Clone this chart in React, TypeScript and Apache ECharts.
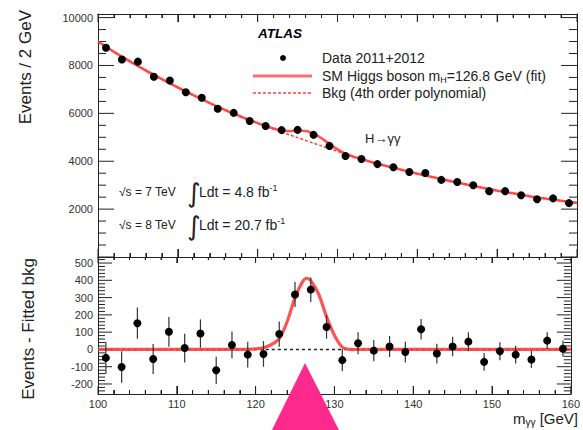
import React, { useEffect, useRef } from 'react';
import * as echarts from 'echarts';

// ---- data ----
const massBins = [101, 103, 105, 107, 109, 111, 113, 115, 117, 119, 121, 123, 125, 127, 129, 131, 133, 135, 137, 139, 141, 143, 145, 147, 149, 151, 153, 155, 157, 159];
const eventCounts = [8740, 8250, 8160, 7530, 7370, 6880, 6650, 6190, 6020, 5680, 5470, 5300, 5310, 5100, 4640, 4220, 4090, 3880, 3750, 3550, 3510, 3220, 3130, 3000, 2750, 2750, 2580, 2410, 2450, 2250];
const statErrors = [93, 91, 90, 87, 86, 83, 82, 79, 78, 75, 74, 73, 73, 71, 68, 65, 64, 62, 61, 60, 59, 57, 56, 55, 52, 52, 51, 49, 49, 47];
const residuals = [-49, -102, 152, -55, 102, 8, 92, -121, 26, -30, -26, 89, 318, 346, 130, -62, 36, -7, 17, -15, 117, -24, 17, 45, -72, -11, -30, -58, 51, 4];

const bgMass = [100, 102, 104, 106, 108, 110, 112, 114, 116, 118, 119, 120, 121, 122, 123, 124, 125, 126, 126.5, 127, 128, 129, 130, 131, 132, 133, 134, 136, 138, 140, 142, 144, 146, 148, 150, 152, 154, 156, 158, 160];
const bgFit = [9000, 8570, 8170, 7790, 7430, 7080, 6750, 6430, 6130, 5850, 5720, 5590, 5465, 5340, 5220, 5100, 4985, 4870, 4813, 4755, 4640, 4525, 4410, 4300, 4190, 4090, 3990, 3810, 3640, 3480, 3330, 3180, 3040, 2900, 2770, 2660, 2540, 2440, 2350, 2260];

const signalMass = [119, 120, 121, 122, 123, 124, 125, 126, 126.5, 127, 128, 129, 130, 131, 132];
const signalFit = [0, 3, 10, 28, 62, 160, 300, 395, 412, 398, 320, 190, 82, 13, 0];

// axis ranges and tick values
const xRange = [100, 160];
const topYRange = [0, 10150];
const resYRange = [-258, 535];
const xMajorTicks = [100, 110, 120, 130, 140, 150, 160];
const topYMajorTicks = [0, 2000, 4000, 6000, 8000, 10000];
const resYMajorTicks = [-200, -100, 0, 100, 200, 300, 400, 500];

const FONT = 'Liberation Sans, Arial, sans-serif';
const RED = '#ff4040';
const AXIS = '#222';

function sigAt(m: number): number {
  const i = signalMass.indexOf(m);
  return i >= 0 ? signalFit[i] : 0;
}

function minorTicks(range: number[], step: number, majorStep: number): number[] {
  const out: number[] = [];
  const start = Math.ceil(range[0] / step) * step;
  for (let v = start; v <= range[1]; v += step) {
    if (Math.abs(v % majorStep) > 1e-6) out.push(v);
  }
  return out;
}

function xAxis(grid: number, pos: 'top' | 'bottom', showLabel: boolean, major: number, minor: number) {
  return {
    type: 'value', gridIndex: grid, position: pos,
    min: xRange[0], max: xRange[1], interval: 10,
    axisLine: { show: true, onZero: false, lineStyle: { color: AXIS, width: 1 } },
    axisTick: { show: true, inside: true, length: major, lineStyle: { color: AXIS, width: 1 } },
    minorTick: { show: true, splitNumber: 5, length: minor, lineStyle: { color: AXIS, width: 1 } },
    splitLine: { show: false },
    axisLabel: { show: showLabel, fontSize: 11, color: '#333', margin: 4 },
  };
}

function yAxis(grid: number, pos: 'left' | 'right', range: number[], opts: any, showLabel: boolean, fmt?: (v: number) => string) {
  return {
    type: 'value', gridIndex: grid, position: pos, min: range[0], max: range[1], ...opts,
    axisLine: { show: true, onZero: false, lineStyle: { color: AXIS, width: 1 } },
    axisTick: { show: false },
    minorTick: { show: false },
    splitLine: { show: false },
    axisLabel: { show: showLabel, fontSize: 11, color: '#333', margin: 5, formatter: fmt, showMinLabel: false, showMaxLabel: false },
  };
}

function errorBarRender(params: any, api: any) {
  const x = api.value(0);
  const y = api.value(1);
  const e = api.value(2);
  const p1 = api.coord([x, y + e]);
  const p2 = api.coord([x, y - e]);
  return {
    type: 'line',
    shape: { x1: p1[0], y1: p1[1], x2: p2[0], y2: p2[1] },
    style: { stroke: '#333', lineWidth: 1.2 },
  };
}

// draws a whole fitted curve once, through the axes' own scales
function curveRender(points: number[][], style: any) {
  return (params: any, api: any) => {
    if (params.dataIndex !== 0) return null;
    const pts = points.map((p) => api.coord(p));
    return {
      type: 'polyline',
      shape: { points: pts, smooth: 0.3 },
      style: { fill: 'none', ...style },
    };
  };
}

// ROOT-style inside ticks on all four sides of a panel
function frameTicksRender(yRange: number[], yMaj: number[], yMin: number[], lens: { xb: number; xt: number; y: number }) {
  const xMin = minorTicks(xRange, 2, 10);
  return (params: any, api: any) => {
    if (params.dataIndex !== 0) return null;
    const children: any[] = [];
    const seg = (a: number[], b: number[]) => children.push({
      type: 'line',
      shape: { x1: a[0], y1: a[1], x2: b[0], y2: b[1] },
      style: { stroke: AXIS, lineWidth: 1 },
    });
    const xTick = (v: number, f: number) => {
      const pb = api.coord([v, yRange[0]]);
      seg(pb, [pb[0], pb[1] - lens.xb * f]);
      const pt = api.coord([v, yRange[1]]);
      seg(pt, [pt[0], pt[1] + lens.xt * f]);
    };
    const yTick = (v: number, f: number) => {
      const pl = api.coord([xRange[0], v]);
      seg(pl, [pl[0] + lens.y * f, pl[1]]);
      const pr = api.coord([xRange[1], v]);
      seg(pr, [pr[0] - lens.y * f, pr[1]]);
    };
    xMajorTicks.forEach((v) => xTick(v, 1));
    xMin.forEach((v) => xTick(v, 0.5));
    yMaj.forEach((v) => yTick(v, 1));
    yMin.forEach((v) => yTick(v, 0.5));
    return { type: 'group', children };
  };
}

export default function App() {
  const ref = useRef<HTMLDivElement>(null);
  const overlayRef = useRef<HTMLDivElement>(null);
  useEffect(() => {
    document.body.style.margin = '0';
    const chart = echarts.init(ref.current!, null, { renderer: 'svg' });
    const overlay = echarts.init(overlayRef.current!, null, { renderer: 'svg' });

    const topData = massBins.map((m, i) => [m, eventCounts[i], statErrors[i]]);
    const resData = massBins.map((m, i) => [m, residuals[i], statErrors[i]]);
    const bgLine = bgMass.map((m, i) => [m, bgFit[i]]);
    const sbLine = bgMass.map((m, i) => [m, bgFit[i] + sigAt(m)]);
    const sigLine = bgMass.map((m) => [m, sigAt(m)]);
    const zeroLine = [[xRange[0], 0], [xRange[1], 0]];

    const topFmt = (v: number) => (v > 0 && v % 2000 === 0 ? String(v) : '');
    const resFmt = (v: number) => (v % 100 === 0 ? String(v) : '');

    chart.setOption({
      animation: false,
      backgroundColor: '#fff',
      grid: [
        { left: 98, width: 479, top: 14, height: 243 },
        { left: 98, width: 479, top: 257, height: 137 },
      ],
      xAxis: [
        xAxis(0, 'bottom', false, 8, 4),
        xAxis(0, 'top', false, 8, 4),
        xAxis(1, 'bottom', true, 8, 4),
        xAxis(1, 'top', false, 6, 3),
      ],
      yAxis: [
        yAxis(0, 'left', topYRange, { interval: 2000 }, true, topFmt),
        yAxis(0, 'right', topYRange, { interval: 2000 }, false),
        yAxis(1, 'left', resYRange, { splitNumber: 8 }, true, resFmt),
        yAxis(1, 'right', resYRange, { splitNumber: 8 }, false),
      ],
      series: [
        {
          type: 'custom', xAxisIndex: 0, yAxisIndex: 0, data: [[xRange[0], topYRange[0]]], encode: { x: 0, y: 1 }, silent: true,
          renderItem: frameTicksRender(topYRange, topYMajorTicks, minorTicks(topYRange, 500, 2000), { xb: 8, xt: 8, y: 16 }),
        },
        {
          type: 'custom', xAxisIndex: 2, yAxisIndex: 2, data: [[xRange[0], 0]], encode: { x: 0, y: 1 }, silent: true,
          renderItem: frameTicksRender(resYRange, resYMajorTicks, minorTicks(resYRange, 20, 100), { xb: 8, xt: 6, y: 14 }),
        },
        {
          type: 'custom', xAxisIndex: 0, yAxisIndex: 0, data: bgLine, encode: { x: 0, y: 1 },
          renderItem: curveRender(bgLine, { stroke: RED, lineWidth: 1.5, lineDash: [3, 2] }),
        },
        {
          type: 'custom', xAxisIndex: 0, yAxisIndex: 0, data: sbLine, encode: { x: 0, y: 1 },
          renderItem: curveRender(sbLine, { stroke: RED, lineWidth: 2.6, opacity: 0.9 }),
        },
        {
          type: 'scatter', xAxisIndex: 0, yAxisIndex: 0, data: topData, symbolSize: 8,
          itemStyle: { color: '#000', opacity: 1 },
        },
        {
          type: 'custom', xAxisIndex: 2, yAxisIndex: 2, data: zeroLine, encode: { x: 0, y: 1 },
          renderItem: curveRender(zeroLine, { stroke: '#222', lineWidth: 1.5, lineDash: [3, 3] }),
        },
        {
          type: 'custom', xAxisIndex: 2, yAxisIndex: 2, data: sigLine, encode: { x: 0, y: 1 },
          renderItem: curveRender(sigLine, { stroke: RED, lineWidth: 3.2, opacity: 0.9 }),
        },
        {
          type: 'custom', xAxisIndex: 2, yAxisIndex: 2, data: resData, renderItem: errorBarRender,
          encode: { x: 0, y: 1 },
        },
        {
          type: 'scatter', xAxisIndex: 2, yAxisIndex: 2, data: resData, symbolSize: 8,
          itemStyle: { color: '#000', opacity: 1 },
        },
      ],
    } as any);

    const textStyle = (size: number, extra: any = {}) => ({ fontFamily: FONT, fontSize: size, fill: '#222', ...extra });
    overlay.setOption({
      animation: false,
      graphic: [
        { type: 'text', x: 25, y: 10, rotation: Math.PI / 2, style: textStyle(17, { text: 'Events / 2 GeV', align: 'right', verticalAlign: 'middle' }) },
        { type: 'text', x: 28, y: 258, rotation: Math.PI / 2, style: textStyle(17, { text: 'Events - Fitted bkg', align: 'right', verticalAlign: 'middle' }) },
        {
          type: 'text', x: 578, y: 418,
          style: {
            text: '{a|m}{b|γγ}{a| [GeV]}', align: 'right', verticalAlign: 'middle', fill: '#222',
            rich: {
              a: { fontFamily: FONT, fontSize: 15, fill: '#222' },
              b: { fontFamily: FONT, fontSize: 10, fill: '#222', padding: [8, 0, 0, 0] },
            },
          },
        },
        { type: 'text', x: 258, y: 33, style: textStyle(13.5, { text: 'ATLAS', fontWeight: 'bold', fontStyle: 'italic', fill: '#000', verticalAlign: 'middle' }) },
        { type: 'circle', shape: { cx: 283, cy: 58, r: 3 }, style: { fill: '#000' } },
        { type: 'line', shape: { x1: 253, y1: 76, x2: 312, y2: 76 }, style: { stroke: RED, lineWidth: 3, opacity: 0.75 } },
        { type: 'line', shape: { x1: 253, y1: 93, x2: 312, y2: 93 }, style: { stroke: RED, lineWidth: 1.5, lineDash: [3, 2] } },
        { type: 'text', x: 322, y: 58, style: textStyle(14, { text: 'Data 2011+2012', verticalAlign: 'middle' }) },
        {
          type: 'text', x: 322, y: 76,
          style: {
            text: '{a|SM Higgs boson m}{b|H}{a|=126.8 GeV (fit)}', verticalAlign: 'middle',
            rich: {
              a: { fontFamily: FONT, fontSize: 14, fill: '#222' },
              b: { fontFamily: FONT, fontSize: 9, fill: '#222', padding: [7, 0, 0, 0] },
            },
          },
        },
        { type: 'text', x: 322, y: 93, style: textStyle(14, { text: 'Bkg (4th order polynomial)', verticalAlign: 'middle' }) },
        { type: 'text', x: 365, y: 138, style: textStyle(13, { text: 'H→γγ', verticalAlign: 'middle' }) },
        { type: 'text', x: 119, y: 192, style: textStyle(12, { text: '√s = 7 TeV', verticalAlign: 'middle' }) },
        { type: 'text', x: 187, y: 193, style: { text: '∫', fontFamily: 'DejaVu Sans, sans-serif', fontSize: 26, fill: '#222', verticalAlign: 'middle' } },
        {
          type: 'text', x: 199, y: 192,
          style: {
            text: '{a|Ldt = 4.8 fb}{b|-1}', verticalAlign: 'middle',
            rich: {
              a: { fontFamily: FONT, fontSize: 14, fill: '#222' },
              b: { fontFamily: FONT, fontSize: 9, fill: '#222', padding: [0, 0, 8, 0] },
            },
          },
        },
        { type: 'text', x: 119, y: 225, style: textStyle(12, { text: '√s = 8 TeV', verticalAlign: 'middle' }) },
        { type: 'text', x: 187, y: 226, style: { text: '∫', fontFamily: 'DejaVu Sans, sans-serif', fontSize: 26, fill: '#222', verticalAlign: 'middle' } },
        {
          type: 'text', x: 199, y: 225,
          style: {
            text: '{a|Ldt = 20.7 fb}{b|-1}', verticalAlign: 'middle',
            rich: {
              a: { fontFamily: FONT, fontSize: 14, fill: '#222' },
              b: { fontFamily: FONT, fontSize: 9, fill: '#222', padding: [0, 0, 8, 0] },
            },
          },
        },
        { type: 'polygon', shape: { points: [[305, 363], [268, 438], [343, 438]] }, style: { fill: '#fc2a8c' } },
      ],
    } as any);

    return () => {
      overlay.dispose();
      chart.dispose();
    };
  }, []);
  return (
    <div style={{ position: 'relative', width: 583, height: 430 }}>
      <div ref={ref} style={{ position: 'absolute', left: 0, top: 0, width: 583, height: 430 }} />
      <div ref={overlayRef} style={{ position: 'absolute', left: 0, top: 0, width: 583, height: 430, pointerEvents: 'none' }} />
    </div>
  );
}
